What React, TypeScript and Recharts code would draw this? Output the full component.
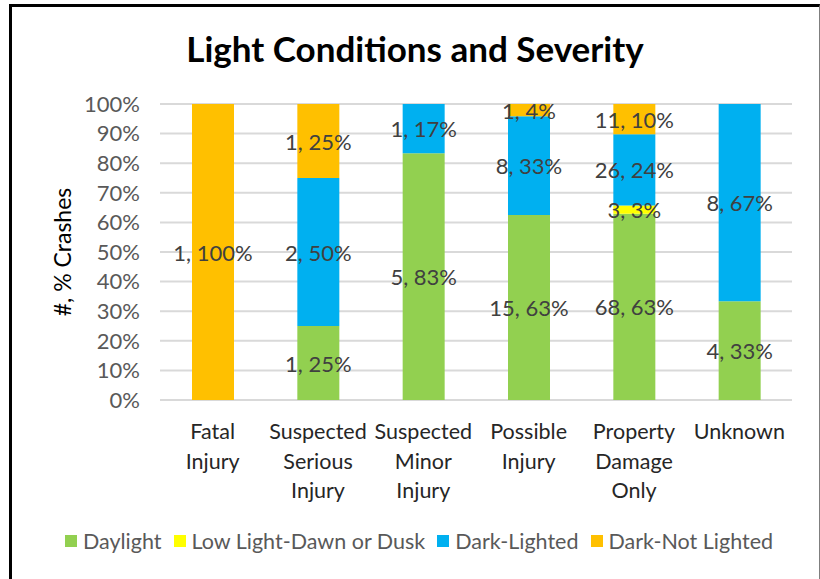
import React from "react"
import { Bar, BarChart, CartesianGrid, LabelList, XAxis, YAxis } from "recharts"

const categories = [
  "Fatal Injury",
  "Suspected Serious Injury",
  "Suspected Minor Injury",
  "Possible Injury",
  "Property Damage Only",
  "Unknown",
]
const categoryLines = [
  ["Fatal", "Injury"],
  ["Suspected", "Serious", "Injury"],
  ["Suspected", "Minor", "Injury"],
  ["Possible", "Injury"],
  ["Property", "Damage", "Only"],
  ["Unknown"],
]

const daylight = [0, 1, 5, 15, 68, 4]
const lowLight = [0, 0, 0, 0, 3, 0]
const darkLighted = [0, 2, 1, 8, 26, 8]
const darkNotLighted = [1, 1, 0, 1, 11, 0]

const yTicks = [0, 0.1, 0.2, 0.3, 0.4, 0.5, 0.6, 0.7, 0.8, 0.9, 1]

const SERIES = [
  { key: "daylight", name: "Daylight", color: "#92D050", values: daylight },
  { key: "lowLight", name: "Low Light-Dawn or Dusk", color: "#FFFF00", values: lowLight },
  { key: "darkLighted", name: "Dark-Lighted", color: "#00B0F0", values: darkLighted },
  { key: "darkNotLighted", name: "Dark-Not Lighted", color: "#FFC000", values: darkNotLighted },
]

const FONT = "Lato, 'Open Sans', sans-serif"

const data = categories.map((name, i) => {
  const total = SERIES.reduce((s, ser) => s + ser.values[i], 0)
  const row: Record<string, string | number> = { name, idx: i }
  SERIES.forEach((ser) => {
    const v = ser.values[i]
    row[ser.key] = v
    row[ser.key + "Label"] = v > 0 ? `${v}, ${Math.round((v / total) * 100)}%` : ""
  })
  return row
})

function SegmentLabel(props: any) {
  const { x, y, width, height, value } = props
  if (!value) return null
  return (
    <text
      x={Number(x) + Number(width) / 2}
      y={Number(y) + Number(height) / 2}
      textAnchor="middle"
      dominantBaseline="central"
      fill="#404040"
      fontSize={22}
      fontFamily={FONT}
    >
      {value}
    </text>
  )
}

function CategoryTick(props: any) {
  const { x, y, index } = props
  const lines = categoryLines[index] ?? []
  return (
    <text x={x} y={y} textAnchor="middle" fill="#262626" fontSize={21.5} fontFamily={FONT}>
      {lines.map((l, i) => (
        <tspan key={i} x={x} dy={i === 0 ? 31 : 29.5}>
          {l}
        </tspan>
      ))}
    </text>
  )
}

export default function App() {
  return (
    <div style={{ position: "absolute", left: 0, top: 0, width: 820, height: 579, background: "#fff", overflow: "hidden", fontFamily: FONT }}>
      <div
        style={{
          position: "absolute",
          left: 9,
          top: 4,
          width: 807,
          height: 600,
          borderTop: "3px solid #000",
          borderLeft: "3px solid #000",
          borderRight: "1px solid #7f7f7f",
        }}
      />
      <div
        style={{
          position: "absolute",
          left: 0,
          width: 830,
          top: 27,
          textAlign: "center",
          fontSize: 35,
          fontWeight: 700,
          color: "#000",
        }}
      >
        Light Conditions and Severity
      </div>
      <div
        style={{
          position: "absolute",
          left: 62,
          top: 252,
          transform: "translate(-50%, -50%) rotate(-90deg)",
          whiteSpace: "nowrap",
          fontSize: 23,
          color: "#000",
        }}
      >
        #, % Crashes
      </div>
      <div style={{ position: "absolute", left: 0, top: 0 }}>
        <BarChart
          width={820}
          height={579}
          data={data}
          stackOffset="expand"
          margin={{ top: 104, right: 28, bottom: 79, left: 100 }}
          barSize={42}
        >
          <CartesianGrid horizontal vertical={false} stroke="#D9D9D9" strokeWidth={2} />
          <XAxis
            dataKey="name"
            axisLine={false}
            tickLine={false}
            height={100}
            interval={0}
            tick={<CategoryTick />}
          />
          <YAxis
            width={60}
            domain={[0, 1]}
            ticks={yTicks}
            interval={0}
            axisLine={false}
            tickLine={false}
            tickSize={0}
            tickMargin={20}
            tickFormatter={(v: number) => `${Math.round(v * 100)}%`}
            tick={{ fill: "#595959", fontSize: 22, fontFamily: FONT }}
          />
          {SERIES.map((s) => (
            <Bar key={s.key} dataKey={s.key} name={s.name} stackId="a" fill={s.color} isAnimationActive={false}>
              <LabelList dataKey={s.key + "Label"} content={<SegmentLabel />} />
            </Bar>
          ))}
        </BarChart>
      </div>
      <div
        style={{
          position: "absolute",
          left: 0,
          width: 838,
          top: 528,
          display: "flex",
          justifyContent: "center",
          gap: 12,
          fontSize: 21.5,
          color: "#595959",
        }}
      >
        {SERIES.map((s) => (
          <div key={s.key} style={{ display: "flex", alignItems: "center" }}>
            <span style={{ width: 12, height: 12, background: s.color, marginRight: 6, display: "inline-block" }} />
            <span>{s.name}</span>
          </div>
        ))}
      </div>
    </div>
  )
}
